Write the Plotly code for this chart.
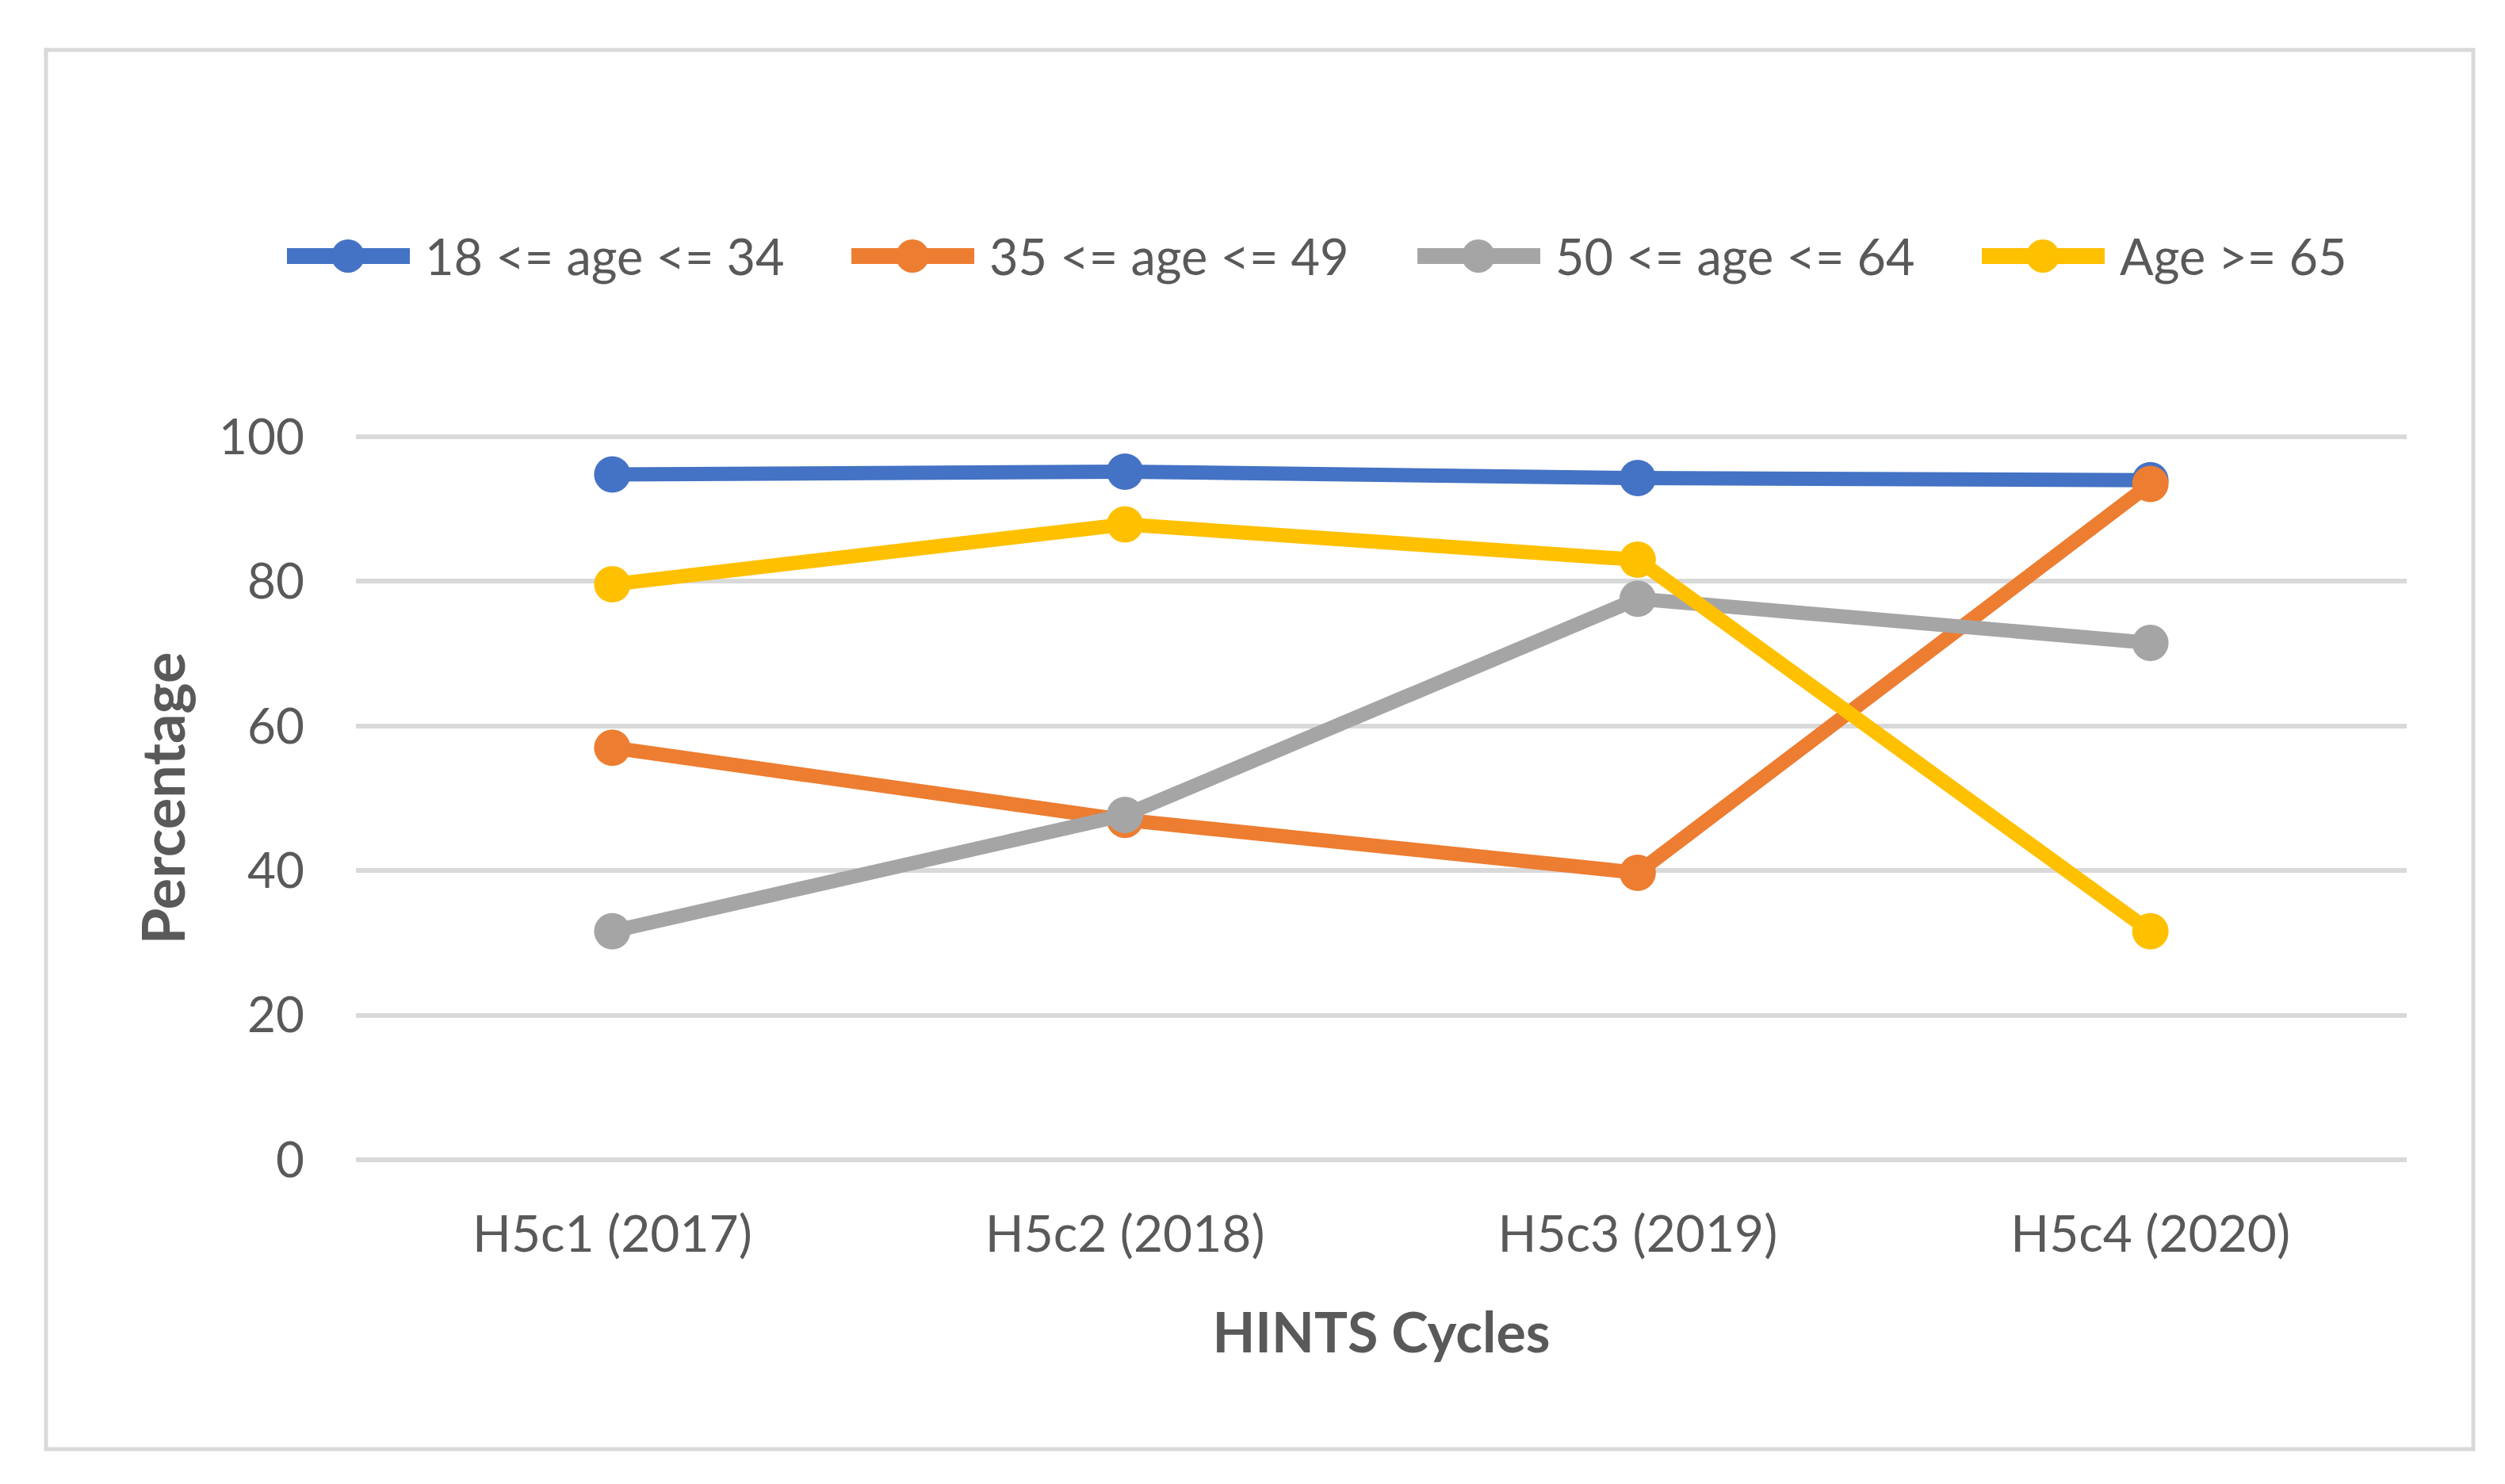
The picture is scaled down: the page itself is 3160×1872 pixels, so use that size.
import plotly.graph_objects as go

# ---- data ----
categories = ["H5c1 (2017)", "H5c2 (2018)", "H5c3 (2019)", "H5c4 (2020)"]
series_names = ["18 <= age <= 34", "35 <= age <= 49", "50 <= age <= 64", "Age >= 65"]
age_18_34 = [94.8, 95.2, 94.3, 94.0]
age_35_49 = [57.0, 47.0, 39.7, 93.5]
age_50_64 = [31.6, 47.7, 77.6, 71.5]
age_65_plus = [79.6, 87.9, 83.0, 31.6]
y_ticks = [0, 20, 40, 60, 80, 100]

series_values = [age_18_34, age_35_49, age_50_64, age_65_plus]
colors = ["#4472C4", "#ED7D31", "#A5A5A5", "#FFC000"]

OFF = 8  # browser default body margin
W, H = 3160 - 2 * OFF, 1872 - 2 * OFF
# plot area in page px (y range padded by 1 unit each side so the 0/100 gridlines show)
L, R, T, B = 449 - OFF, 3036 - OFF, 542 - OFF, 1472 - OFF
FONT = "Lato, Roboto, sans-serif"
TXT = "#595959"


def px_x(p):
    return (p - OFF - L) / (R - L)


def px_y(p):
    return (B - (p - OFF)) / (B - T)


fig = go.Figure()
for name, vals, col in zip(series_names, series_values, colors):
    fig.add_trace(go.Scatter(
        x=categories, y=vals, name=name, mode="lines+markers",
        line=dict(color=col, width=18),
        marker=dict(color=col, size=46, symbol="circle"),
        cliponaxis=False, showlegend=False,
    ))

shapes = []
annotations = []
# chart border
shapes.append(dict(type="rect", xref="paper", yref="paper",
                   x0=px_x(58), x1=px_x(3120), y0=px_y(1828), y1=px_y(63),
                   line=dict(color="#D9D9D9", width=5), fillcolor="rgba(0,0,0,0)",
                   layer="below"))

# custom legend (line + marker + text), matching spreadsheet style
leg_y = 323
leg_x0 = [356, 1068, 1782, 2494]
for x0, name, col in zip(leg_x0, series_names, colors):
    shapes.append(dict(type="line", xref="paper", yref="paper",
                       x0=px_x(x0 + 6), x1=px_x(x0 + 161), y0=px_y(leg_y), y1=px_y(leg_y),
                       line=dict(color=col, width=20)))
    shapes.append(dict(type="circle", xref="paper", yref="paper",
                       x0=px_x(x0 + 62), x1=px_x(x0 + 104),
                       y0=px_y(leg_y + 21), y1=px_y(leg_y - 21),
                       line=dict(color=col, width=0), fillcolor=col))
    annotations.append(dict(xref="paper", yref="paper", x=px_x(x0 + 178), y=px_y(leg_y),
                            text=name, showarrow=False, xanchor="left", yanchor="middle",
                            font=dict(family=FONT, size=63, color=TXT)))

fig.update_layout(
    width=W, height=H,
    margin=dict(l=L, r=W - R, t=T, b=H - B, pad=0),
    paper_bgcolor="white", plot_bgcolor="white",
    font=dict(family=FONT, color=TXT, size=64),
    shapes=shapes, annotations=annotations,
    showlegend=False,
    xaxis=dict(
        type="category", range=[-0.5, 3.5], showgrid=False, zeroline=False,
        showline=False, ticks="", tickfont=dict(size=64, color=TXT, family=FONT),
        ticklabelstandoff=42,
        title=dict(text="<b>HINTS Cycles</b>", font=dict(size=70, color=TXT, family=FONT),
                   standoff=64),
    ),
    yaxis=dict(
        range=[-1, 101], tickvals=y_ticks, showgrid=True, gridcolor="#D9D9D9", gridwidth=6,
        zeroline=False, showline=False, ticks="",
        tickfont=dict(size=62, color=TXT, family=FONT),
        ticklabelstandoff=64,
        title=dict(text="<b>Percentage</b>", font=dict(size=74, color=TXT, family=FONT),
                   standoff=18),
    ),
)

fig.write_html("out.html")
